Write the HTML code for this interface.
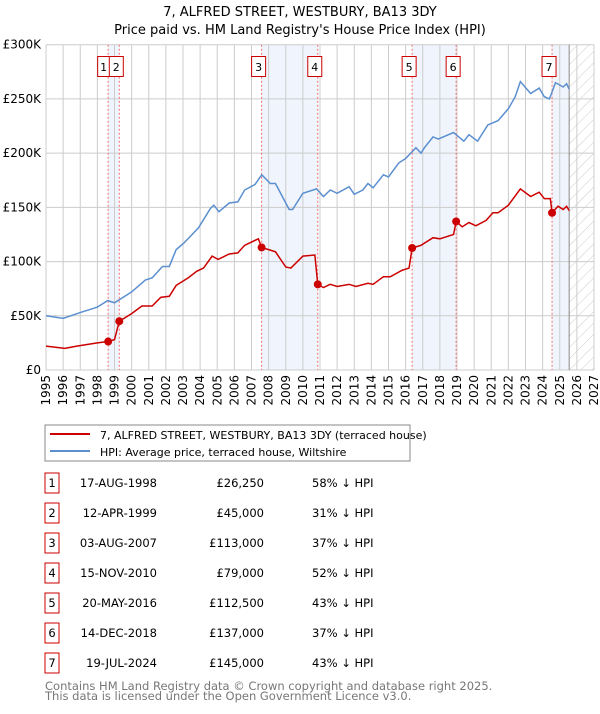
<!DOCTYPE html>
<html><head><meta charset="utf-8"><style>
body{margin:0;background:#fff;width:600px;height:710px;overflow:hidden;font-family:"DejaVu Sans","Liberation Sans",sans-serif;}
svg text{font-family:"DejaVu Sans","Liberation Sans",sans-serif;}
</style></head><body>
<svg id="c" width="600" height="710">
<text x="300" y="16" text-anchor="middle" font-size="13">7, ALFRED STREET, WESTBURY, BA13 3DY</text>
<text x="300" y="34" text-anchor="middle" font-size="13">Price paid vs. HM Land Registry's House Price Index (HPI)</text>
<g id="plot"></g>
<rect x="45" y="425" width="365" height="36" fill="#fff" stroke="#888"/>
<line x1="50" y1="434" x2="90" y2="434" stroke="#cc0000" stroke-width="2"/>
<text x="100" y="439" font-size="11">7, ALFRED STREET, WESTBURY, BA13 3DY (terraced house)</text>
<line x1="50" y1="451" x2="90" y2="451" stroke="#5b8fd0" stroke-width="2"/>
<text x="100" y="456" font-size="11">HPI: Average price, terraced house, Wiltshire</text>
<g id="table"></g>
<text x="45" y="690" font-size="11.5" fill="#777">Contains HM Land Registry data © Crown copyright and database right 2025.</text>
<text x="45" y="700" font-size="11.5" fill="#777">This data is licensed under the Open Government Licence v3.0.</text>
</svg>
<script>
const hpiYears=[1995,1996,1997,1998,1998.6,1999,2000,2000.8,2001.2,2001.8,2002.2,2002.6,2003.05,2003.9,2004.6,2004.8,2005.1,2005.7,2006.2,2006.6,2007.2,2007.6,2008.1,2008.4,2008.9,2009.2,2009.4,2010,2010.8,2011.2,2011.6,2012,2012.7,2013,2013.5,2013.8,2014.1,2014.7,2015,2015.6,2016,2016.6,2016.9,2017.1,2017.6,2017.9,2018.8,2019.4,2019.7,2020.2,2020.8,2021.4,2022,2022.4,2022.7,2023.3,2023.8,2024.1,2024.4,2024.75,2025.2,2025.4,2025.55];
const hpiValues=[50,47.6,53,58,64,62,72,83,85,95.5,95.5,111,117,131,149,152,146,154,155,166,171,180,172,172,157,148,148,163,167,160,166,163,169,162,166,172,168,180,178,191,195,205,200,205,215,213,219,211,217,211,226,230,241,252,266,255,260,252,250,265,261,264,259];
const priceYears=[1995,1996.1,1996.8,1998,1998.63,1999.0,1999.28,2000,2000.6,2001.2,2001.7,2002.2,2002.6,2003.3,2003.8,2004.2,2004.7,2005.05,2005.7,2006.2,2006.6,2007.4,2007.59,2008,2008.4,2009,2009.3,2010,2010.7,2010.87,2011.2,2011.6,2012,2012.7,2013.1,2013.8,2014.1,2014.7,2015.1,2015.8,2016.2,2016.38,2016.9,2017.6,2018,2018.8,2018.95,2019.3,2019.7,2020.1,2020.7,2021.1,2021.4,2022,2022.7,2023.3,2023.8,2024.1,2024.45,2024.55,2024.9,2025.2,2025.4,2025.55];
const priceValues=[22,20,22,25,26.25,28,45,52,59,59,67,68,78,85,91,94,105,102,107,108,115,121,113,111,109,95,94,105,106,79,76,79,77,79,77,80,79,86,86,92,94,112.5,115,122,121,125,137,132,136,133,138,145,145,152,167,160,164,158,158,145,151,148,151,147];
const saleLabels=["1","2","3","4","5","6","7"];
const saleYears=[1998.63,1999.28,2007.59,2010.87,2016.38,2018.95,2024.55];
const saleValues=[26.25,45,113,79,112.5,137,145];
const saleDates=["17-AUG-1998","12-APR-1999","03-AUG-2007","15-NOV-2010","20-MAY-2016","14-DEC-2018","19-JUL-2024"];
const salePrices=["£26,250","£45,000","£113,000","£79,000","£112,500","£137,000","£145,000"];
const saleDiffs=["58% ↓ HPI","31% ↓ HPI","37% ↓ HPI","52% ↓ HPI","43% ↓ HPI","37% ↓ HPI","43% ↓ HPI"];
const yTicks=[0,50,100,150,200,250,300];
const yTickLabels=["£0","£50K","£100K","£150K","£200K","£250K","£300K"];
const dataEnd=2025.55;

const NS="http://www.w3.org/2000/svg";
const X0=46,X1=594,Y0=370,Y1=44.7;
const xs=y=>X0+(y-1995)/32*(X1-X0);
const ys=v=>Y0-v/300*(Y0-Y1);
const plot=document.getElementById('plot');
function mk(tag,attrs,parent){const e=document.createElementNS(NS,tag);for(const k in attrs)e.setAttribute(k,attrs[k]);(parent||plot).appendChild(e);return e;}
const defs=mk('defs',{});
const pat=mk('pattern',{id:'hatch',width:8,height:8,patternUnits:'userSpaceOnUse',patternTransform:'rotate(45)'},defs);
mk('line',{x1:0,y1:0,x2:0,y2:8,stroke:'#ccc','stroke-width':1},pat);
const shades=[[0,1],[2,3],[4,5]];
shades.forEach((p,i)=>{const r=mk('rect',{x:xs(saleYears[p[0]]),y:Y1,width:xs(saleYears[p[1]])-xs(saleYears[p[0]]),height:Y0-Y1,fill:'#f0f4fc'});

});
const r7=mk('rect',{x:xs(saleYears[6]),y:Y1,width:xs(dataEnd)-xs(saleYears[6]),height:Y0-Y1,fill:'#f0f4fc'});


const hr=mk('rect',{x:xs(dataEnd),y:Y1,width:X1-xs(dataEnd),height:Y0-Y1,fill:'url(#hatch)'});


for(let yr=1995;yr<=2027;yr++){const l=mk('line',{x1:xs(yr),x2:xs(yr),y1:Y1,y2:Y0,stroke:'#ccc','stroke-width':1});


const t=mk('text',{transform:`translate(${xs(yr)+4},${Y0+5}) rotate(-90)`,'text-anchor':'end','font-size':12});t.textContent=yr;

}
yTicks.forEach((v,i)=>{const l=mk('line',{x1:X0,x2:X1,y1:ys(v),y2:ys(v),stroke:'#ccc','stroke-width':1});


const t=mk('text',{x:41,y:ys(v)+4,'text-anchor':'end','font-size':12});t.textContent=yTickLabels[i];

});
const el=mk('line',{x1:xs(dataEnd),x2:xs(dataEnd),y1:Y1,y2:Y0,stroke:'#888','stroke-width':1});


saleYears.forEach((y,i)=>{const l=mk('line',{x1:xs(y),x2:xs(y),y1:Y1,y2:Y0,stroke:'#f27070','stroke-width':1,'stroke-dasharray':'2,2'});


let bx=xs(y)-10;if(i===0)bx=xs(y)-10.5;if(i===1)bx=xs(y)-10;
const bw=(i===0)?12:14;
const b=mk('rect',{x:bx,y:56.5,width:bw,height:20,fill:'#fff',stroke:'#cc0000'});


const t=mk('text',{x:bx+bw/2,y:71,'text-anchor':'middle','font-size':11});t.textContent=saleLabels[i];

});
const hp=mk('polyline',{points:hpiYears.map((y,i)=>xs(y)+','+ys(hpiValues[i])).join(' '),fill:'none',stroke:'#5b8fd0','stroke-width':1.5});


const pp=mk('polyline',{points:priceYears.map((y,i)=>xs(y)+','+ys(priceValues[i])).join(' '),fill:'none',stroke:'#cc0000','stroke-width':1.5});


saleYears.forEach((y,i)=>{const c=mk('circle',{cx:xs(y),cy:ys(saleValues[i]),r:4,fill:'#cc0000'});

});
const tb=document.getElementById('table');
saleLabels.forEach((s,i)=>{const cy=483+i*30;
const b=mk('rect',{x:45,y:cy-10,width:14,height:20,fill:'#fff',stroke:'#cc0000'},tb);


const cells=[[52,'middle',s,'table-row-number'],[157,'end',saleDates[i],'table-row-date'],[264,'end',salePrices[i],'table-row-price'],[312,'start',saleDiffs[i],'table-row-hpi-diff']];
cells.forEach(c=>{const t=mk('text',{x:c[0],y:cy+4,'text-anchor':c[1],'font-size':11.5},tb);t.textContent=c[2];

});});
</script>
</body></html>
